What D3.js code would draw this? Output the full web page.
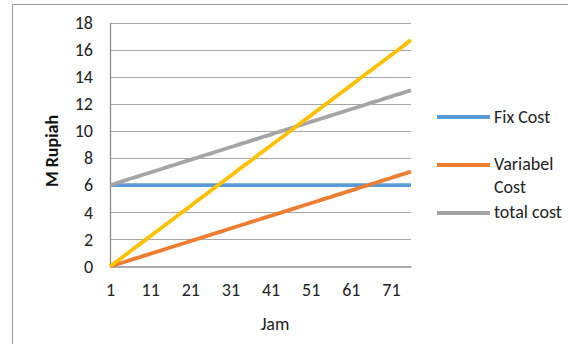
<!DOCTYPE html>
<html>
<head>
<meta charset="utf-8">
<script src="https://cdn.jsdelivr.net/npm/d3@7"></script>
<style>
  html, body { margin: 0; padding: 0; background: #fff; }
  svg { display: block; font-family: Carlito, Lato, "Open Sans", sans-serif; }
</style>
</head>
<body>
<svg id="chart" width="568" height="344"></svg>
<script>
// Hours (category axis)
const jam = [
  1,2,3,4,5,6,7,8,9,10,11,12,13,14,15,16,17,18,19,20,
  21,22,23,24,25,26,27,28,29,30,31,32,33,34,35,36,37,38,39,40,
  41,42,43,44,45,46,47,48,49,50,51,52,53,54,55,56,57,58,59,60,
  61,62,63,64,65,66,67,68,69,70,71,72,73,74,75,76
];

// Fixed cost, million Rupiah
const fixCost = [
  6,6,6,6,6,6,6,6,6,6,6,6,6,6,6,6,6,6,6,6,
  6,6,6,6,6,6,6,6,6,6,6,6,6,6,6,6,6,6,6,6,
  6,6,6,6,6,6,6,6,6,6,6,6,6,6,6,6,6,6,6,6,
  6,6,6,6,6,6,6,6,6,6,6,6,6,6,6,6
];

// Variable cost, million Rupiah
const variabelCost = [
  0,0.09,0.19,0.28,0.37,0.47,0.56,0.65,0.75,0.84,0.93,1.03,1.12,1.21,1.31,1.40,1.49,1.59,1.68,1.77,
  1.87,1.96,2.05,2.15,2.24,2.33,2.43,2.52,2.61,2.71,2.80,2.89,2.99,3.08,3.17,3.27,3.36,3.45,3.55,3.64,
  3.73,3.83,3.92,4.01,4.11,4.20,4.29,4.39,4.48,4.57,4.67,4.76,4.85,4.95,5.04,5.13,5.23,5.32,5.41,5.51,
  5.60,5.69,5.79,5.88,5.97,6.07,6.16,6.25,6.35,6.44,6.53,6.63,6.72,6.81,6.91,7.00
];

// Total cost, million Rupiah
const totalCost = [
  6.00,6.09,6.19,6.28,6.37,6.47,6.56,6.65,6.75,6.84,6.93,7.03,7.12,7.21,7.31,7.40,7.49,7.59,7.68,7.77,
  7.87,7.96,8.05,8.15,8.24,8.33,8.43,8.52,8.61,8.71,8.80,8.89,8.99,9.08,9.17,9.27,9.36,9.45,9.55,9.64,
  9.73,9.83,9.92,10.01,10.11,10.20,10.29,10.39,10.48,10.57,10.67,10.76,10.85,10.95,11.04,11.13,11.23,11.32,11.41,11.51,
  11.60,11.69,11.79,11.88,11.97,12.07,12.16,12.25,12.35,12.44,12.53,12.63,12.72,12.81,12.91,13.00
];

// Revenue line (no legend entry), million Rupiah
const pendapatan = [
  0,0.22,0.45,0.67,0.89,1.11,1.34,1.56,1.78,2.00,2.23,2.45,2.67,2.89,3.12,3.34,3.56,3.79,4.01,4.23,
  4.45,4.68,4.90,5.12,5.34,5.57,5.79,6.01,6.23,6.46,6.68,6.90,7.13,7.35,7.57,7.79,8.02,8.24,8.46,8.68,
  8.91,9.13,9.35,9.57,9.80,10.02,10.24,10.47,10.69,10.91,11.13,11.36,11.58,11.80,12.02,12.25,12.47,12.69,12.91,13.14,
  13.36,13.58,13.81,14.03,14.25,14.47,14.70,14.92,15.14,15.36,15.59,15.81,16.03,16.25,16.48,16.70
];

const xTickLabels = [1, 11, 21, 31, 41, 51, 61, 71];
const yTickLabels = [0, 2, 4, 6, 8, 10, 12, 14, 16, 18];

const series = [
  { name: "Fix Cost",     values: fixCost,      color: "#5B9BD5" },
  { name: "Variabel Cost",values: variabelCost, color: "#ED7D31" },
  { name: "total cost",   values: totalCost,    color: "#A5A5A5" },
  { name: "",             values: pendapatan,   color: "#FFC000" }
];

const FONT = 18;
const svg = d3.select("#chart");

// Outer chart frame
svg.append("rect")
  .attr("x", 12.5).attr("y", 4.5)
  .attr("width", 600).attr("height", 400)
  .attr("fill", "#fff")
  .attr("stroke", "#9a9a9a").attr("stroke-width", 1);

const plot = { left: 110, right: 411, top: 22.5, bottom: 266.5 };

const x = d3.scalePoint().domain(jam).range([plot.left, plot.right]).padding(0);
const y = d3.scaleLinear().domain([0, 18]).range([plot.bottom, plot.top]);

// Horizontal gridlines
svg.append("g")
  .selectAll("line")
  .data(yTickLabels.filter(d => d > 0))
  .join("line")
  .attr("x1", plot.left).attr("x2", plot.right)
  .attr("y1", d => Math.round(y(d)) + 0.5).attr("y2", d => Math.round(y(d)) + 0.5)
  .attr("stroke", "#a6a6a6").attr("stroke-width", 1);

// Y axis
const yAxis = d3.axisLeft(y).tickValues(yTickLabels).tickSize(0).tickPadding(17);
const gy = svg.append("g").attr("transform", `translate(${plot.left},0)`).call(yAxis);
gy.select(".domain").attr("stroke", "#8c8c8c").attr("stroke-width", 1.3);
gy.selectAll("text").attr("font-size", FONT).attr("fill", "#222")
  .attr("font-family", "Carlito, Lato, sans-serif");

// X axis
const xAxis = d3.axisBottom(x).tickValues(xTickLabels).tickSize(0).tickPadding(17);
const gx = svg.append("g").attr("transform", `translate(0,${plot.bottom})`).call(xAxis);
gx.select(".domain").attr("stroke", "#8c8c8c").attr("stroke-width", 1.3);
gx.selectAll("text").attr("font-size", FONT).attr("fill", "#222")
  .attr("font-family", "Carlito, Lato, sans-serif");

// Series lines
const line = d3.line()
  .x((d, i) => x(jam[i]))
  .y(d => y(d));

svg.append("g")
  .selectAll("path")
  .data(series)
  .join("path")
  .attr("d", s => line(s.values))
  .attr("fill", "none")
  .attr("stroke", s => s.color)
  .attr("stroke-width", 3.8)
  .attr("stroke-linejoin", "round");

// Axis titles
svg.append("text")
  .attr("transform", "translate(58,151) rotate(-90)")
  .attr("text-anchor", "middle")
  .attr("font-size", FONT).attr("font-weight", "bold").attr("fill", "#111")
  .text("M Rupiah");

svg.append("text")
  .attr("x", 275).attr("y", 330)
  .attr("text-anchor", "middle")
  .attr("font-size", FONT).attr("fill", "#222")
  .text("Jam");

// Legend
const legendItems = [
  { color: series[0].color, lineY: 117, lines: ["Fix Cost"], textY: 117 },
  { color: series[1].color, lineY: 165, lines: ["Variabel", "Cost"], textY: 164 },
  { color: series[2].color, lineY: 213, lines: ["total cost"], textY: 212 }
];

const lg = svg.append("g");
legendItems.forEach(it => {
  lg.append("line")
    .attr("x1", 437).attr("x2", 490)
    .attr("y1", it.lineY).attr("y2", it.lineY)
    .attr("stroke", it.color).attr("stroke-width", 3.8);
  it.lines.forEach((t, k) => {
    lg.append("text")
      .attr("x", 494).attr("y", it.textY + k * 23)
      .attr("dy", "0.35em")
      .attr("font-size", FONT).attr("fill", "#222")
      .text(t);
  });
});
</script>
</body>
</html>
